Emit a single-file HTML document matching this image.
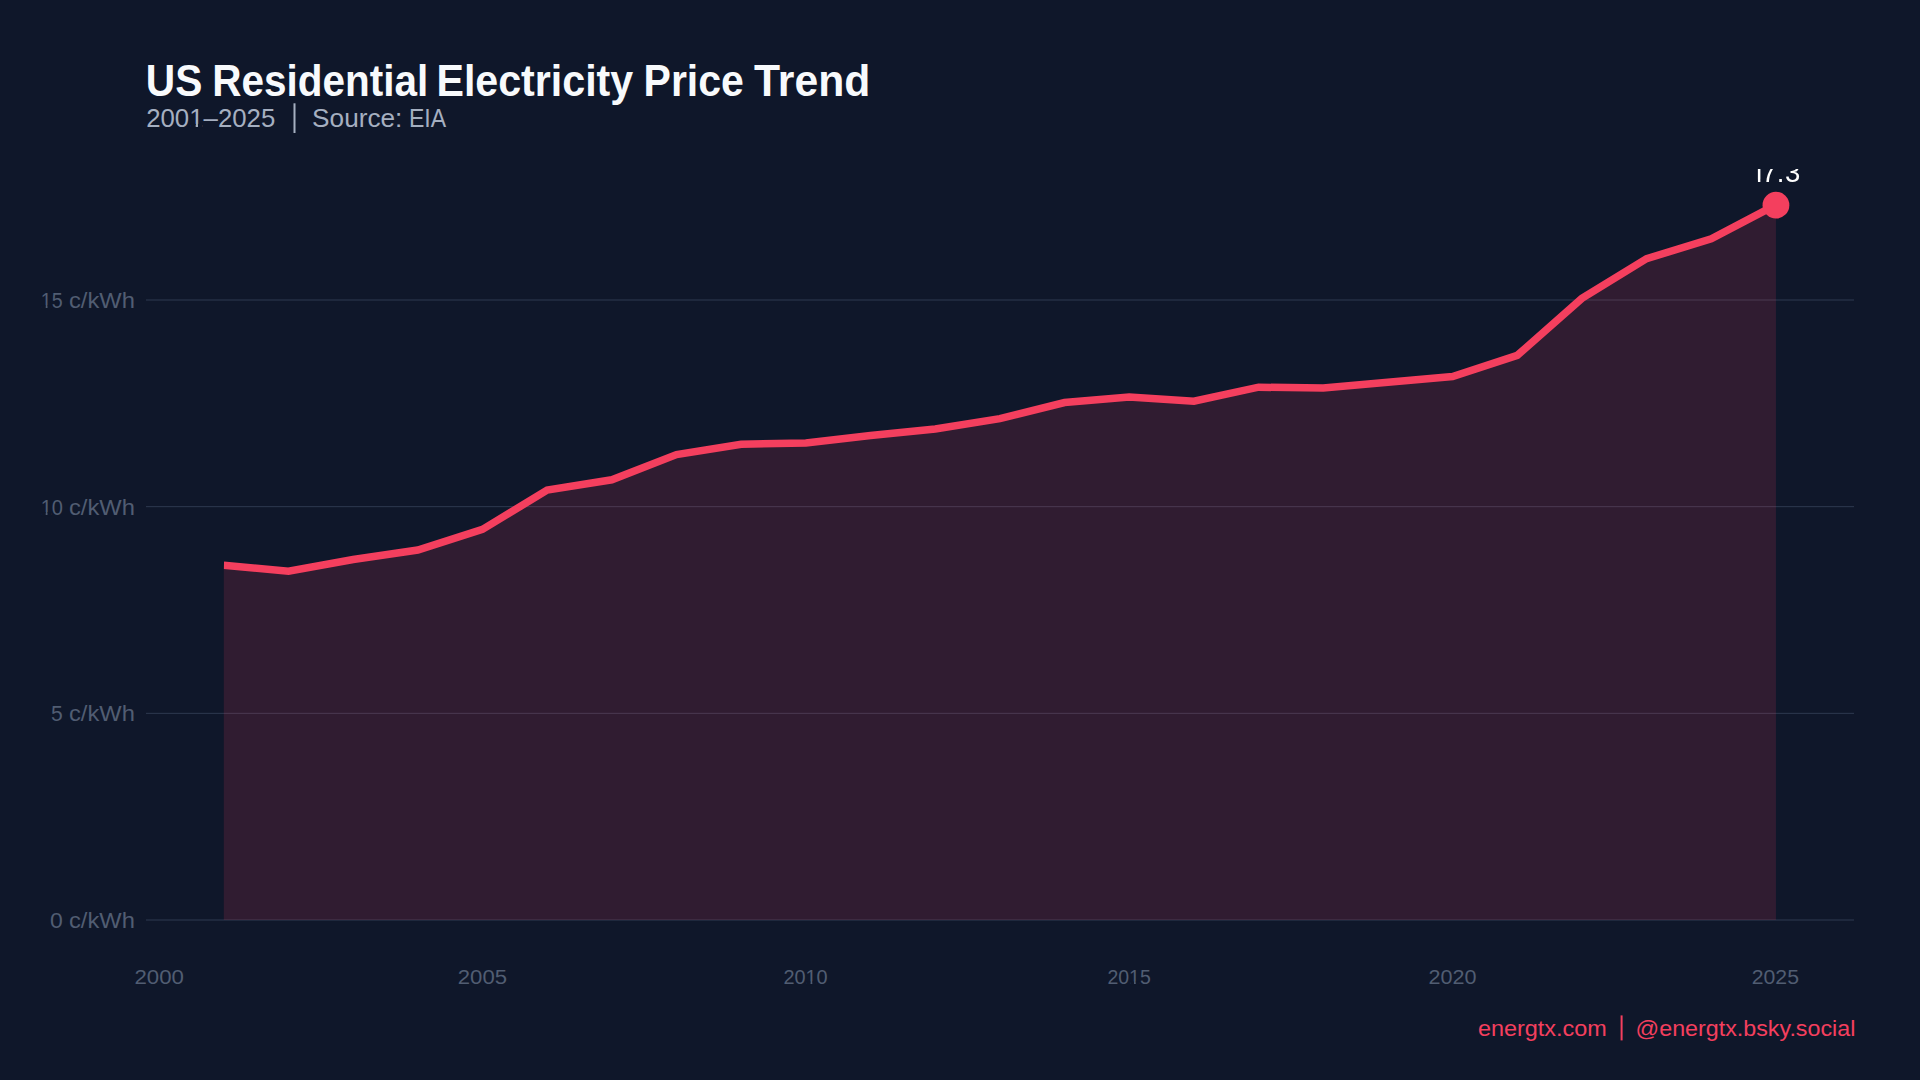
<!DOCTYPE html>
<html><head><meta charset="utf-8"><title>US Residential Electricity Price Trend</title><style>
html,body{margin:0;padding:0;background:#0f172a;width:1920px;height:1080px;overflow:hidden}
svg{display:block}
text{font-family:"Liberation Sans",Arial,sans-serif}
</style></head><body>
<svg width="1920" height="1080" viewBox="0 0 1920 1080">
<rect width="1920" height="1080" fill="#0f172a"/>
<text y="95.80" font-size="44" font-weight="700" fill="#f8fafc"><tspan x="145.86" textLength="56.53" lengthAdjust="spacingAndGlyphs">US</tspan> <tspan x="212.29" textLength="215.87" lengthAdjust="spacingAndGlyphs">Residential</tspan> <tspan x="436.45" textLength="196.77" lengthAdjust="spacingAndGlyphs">Electricity</tspan> <tspan x="643.56" textLength="100.24" lengthAdjust="spacingAndGlyphs">Price</tspan> <tspan x="754.12" textLength="116.19" lengthAdjust="spacingAndGlyphs">Trend</tspan></text>
<text y="126.70" font-size="25" font-weight="400" fill="#a5afc0"><tspan x="146.20" textLength="129.08" lengthAdjust="spacingAndGlyphs">2001–2025</tspan></text>
<text y="126.70" font-size="25" font-weight="400" fill="#a5afc0"><tspan x="312.11" textLength="90.28" lengthAdjust="spacingAndGlyphs">Source:</tspan> <tspan x="408.91" textLength="37.13" lengthAdjust="spacingAndGlyphs">EIA</tspan></text>
<text y="307.90" font-size="22" font-weight="400" fill="#515d72"><tspan x="40.81" textLength="21.82" lengthAdjust="spacingAndGlyphs">15</tspan> <tspan x="68.99" textLength="65.95" lengthAdjust="spacingAndGlyphs">c/kWh</tspan></text>
<text y="514.60" font-size="22" font-weight="400" fill="#515d72"><tspan x="40.67" textLength="22.31" lengthAdjust="spacingAndGlyphs">10</tspan> <tspan x="68.99" textLength="65.95" lengthAdjust="spacingAndGlyphs">c/kWh</tspan></text>
<text y="721.20" font-size="22" font-weight="400" fill="#515d72"><tspan x="51.06" textLength="11.73" lengthAdjust="spacingAndGlyphs">5</tspan> <tspan x="68.99" textLength="65.85" lengthAdjust="spacingAndGlyphs">c/kWh</tspan></text>
<text y="927.90" font-size="22" font-weight="400" fill="#515d72"><tspan x="50.00" textLength="12.80" lengthAdjust="spacingAndGlyphs">0</tspan> <tspan x="68.99" textLength="65.85" lengthAdjust="spacingAndGlyphs">c/kWh</tspan></text>
<text y="983.80" font-size="20.5" font-weight="400" fill="#515d72"><tspan x="134.48" textLength="49.49" lengthAdjust="spacingAndGlyphs">2000</tspan></text>
<text y="983.80" font-size="20.5" font-weight="400" fill="#515d72"><tspan x="457.79" textLength="49.24" lengthAdjust="spacingAndGlyphs">2005</tspan></text>
<text y="983.80" font-size="20.5" font-weight="400" fill="#515d72"><tspan x="783.40" textLength="44.28" lengthAdjust="spacingAndGlyphs">2010</tspan></text>
<text y="983.80" font-size="20.5" font-weight="400" fill="#515d72"><tspan x="1107.42" textLength="43.40" lengthAdjust="spacingAndGlyphs">2015</tspan></text>
<text y="983.80" font-size="20.5" font-weight="400" fill="#515d72"><tspan x="1428.41" textLength="48.03" lengthAdjust="spacingAndGlyphs">2020</tspan></text>
<text y="983.80" font-size="20.5" font-weight="400" fill="#515d72"><tspan x="1751.73" textLength="47.26" lengthAdjust="spacingAndGlyphs">2025</tspan></text>
<text y="1035.80" font-size="22" font-weight="400" fill="#f43f5e"><tspan x="1477.91" textLength="128.84" lengthAdjust="spacingAndGlyphs">energtx.com</tspan></text>
<text y="1035.80" font-size="22" font-weight="400" fill="#f43f5e"><tspan x="1635.57" textLength="219.79" lengthAdjust="spacingAndGlyphs">@energtx.bsky.social</tspan></text>

<rect x="190.74" y="123.89" width="4.97" height="4.31" fill="#0f172a"/><rect x="197.99" y="123.89" width="4.77" height="4.31" fill="#0f172a"/><rect x="41.96" y="305.43" width="3.78" height="3.97" fill="#0f172a"/><rect x="47.47" y="305.43" width="3.63" height="3.97" fill="#0f172a"/><rect x="41.85" y="512.13" width="3.87" height="3.97" fill="#0f172a"/><rect x="47.49" y="512.13" width="3.71" height="3.97" fill="#0f172a"/><rect x="806.70" y="981.50" width="3.84" height="3.80" fill="#0f172a"/><rect x="812.30" y="981.50" width="3.68" height="3.80" fill="#0f172a"/><rect x="1130.26" y="981.50" width="3.76" height="3.80" fill="#0f172a"/><rect x="1135.75" y="981.50" width="3.61" height="3.80" fill="#0f172a"/>
<rect x="293.5" y="103.3" width="2" height="29.7" fill="#a5afc0"/>
<rect x="1620.6" y="1015.4" width="2" height="25" fill="#f43f5e"/>
<line x1="146" y1="920.00" x2="1854" y2="920.00" stroke="#2e3a50" stroke-width="1"/>
<line x1="146" y1="713.33" x2="1854" y2="713.33" stroke="#2e3a50" stroke-width="1"/>
<line x1="146" y1="506.67" x2="1854" y2="506.67" stroke="#2e3a50" stroke-width="1"/>
<line x1="146" y1="300.00" x2="1854" y2="300.00" stroke="#2e3a50" stroke-width="1"/>

<clipPath id="pc"><rect x="223.80" y="169" width="1700" height="760"/></clipPath>
<clipPath id="pt"><rect x="0" y="169" width="1920" height="911"/></clipPath>
<path d="M223.80,920.00 L223.80,565.36 L288.47,571.15 L353.15,559.57 L417.82,550.07 L482.49,529.40 L547.16,490.13 L611.84,479.80 L676.51,454.59 L741.18,444.25 L805.86,443.01 L870.53,435.57 L935.20,428.96 L999.88,418.63 L1064.55,402.51 L1129.22,397.13 L1193.89,401.27 L1258.57,387.21 L1323.24,388.04 L1387.91,382.25 L1452.59,376.47 L1517.26,355.39 L1581.93,298.35 L1646.61,258.67 L1711.28,238.83 L1775.95,204.93 L1775.95,920.00 Z" fill="#f43f5e" fill-opacity="0.15"/>
<polyline clip-path="url(#pc)" points="223.80,565.36 288.47,571.15 353.15,559.57 417.82,550.07 482.49,529.40 547.16,490.13 611.84,479.80 676.51,454.59 741.18,444.25 805.86,443.01 870.53,435.57 935.20,428.96 999.88,418.63 1064.55,402.51 1129.22,397.13 1193.89,401.27 1258.57,387.21 1323.24,388.04 1387.91,382.25 1452.59,376.47 1517.26,355.39 1581.93,298.35 1646.61,258.67 1711.28,238.83 1775.95,204.93" fill="none" stroke="#f43f5e" stroke-width="7.5" stroke-linejoin="miter"/>
<circle cx="1775.95" cy="205.13" r="13.4" fill="#f43f5e"/>
<mask id="m1" maskUnits="userSpaceOnUse" x="1700" y="150" width="150" height="50"><rect x="1700" y="150" width="150" height="50" fill="#fff"/><rect x="1752.90" y="179.75" width="5.04" height="4" fill="#000"/><rect x="1760.37" y="179.75" width="4.75" height="4" fill="#000"/></mask>
<g clip-path="url(#pt)"><text x="1751.02 1761.45 1776.83 1784.93" y="181.9" font-size="27.5" fill="#ffffff" mask="url(#m1)">17.3</text></g>
</svg>
</body></html>
